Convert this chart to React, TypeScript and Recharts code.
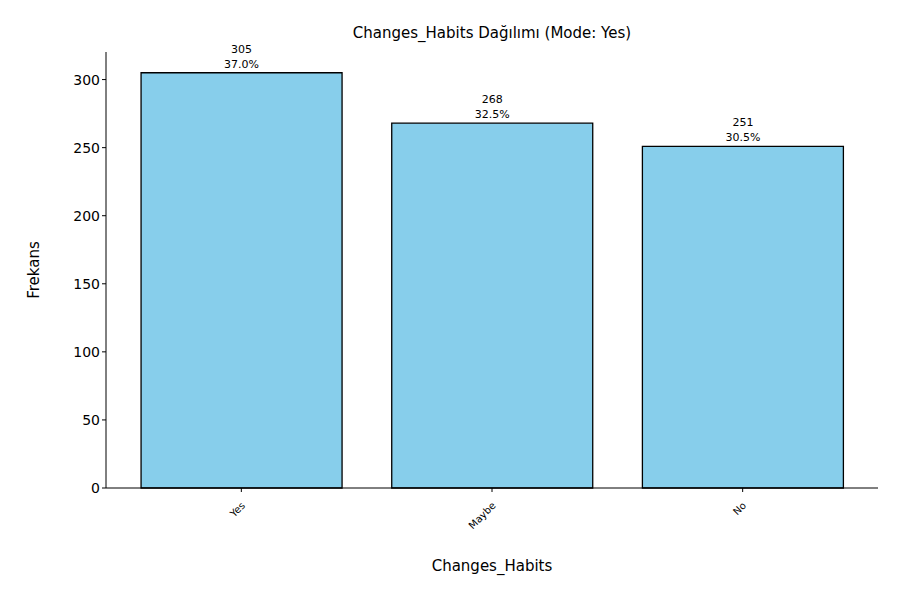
import React from 'react';
import { BarChart, Bar, XAxis, YAxis, LabelList } from 'recharts';

const categories = ['Yes', 'Maybe', 'No'];
const counts = [305, 268, 251];
const percents = ['37.0%', '32.5%', '30.5%'];
const yTicks = [0, 50, 100, 150, 200, 250, 300];

const data = categories.map((name, i) => ({ name, value: counts[i], pct: percents[i] }));

const font = 'DejaVu Sans, sans-serif';

const BarLabel = (props: any) => {
  const { x, y, width, index } = props;
  const cx = x + width / 2;
  return (
    <g fontFamily={font} fontSize={11} fill="#000" textAnchor="middle">
      <text x={cx} y={y - 20}>{counts[index]}</text>
      <text x={cx} y={y - 5}>{percents[index]}</text>
    </g>
  );
};

const XTick = (props: any) => {
  const { x, y, payload } = props;
  return (
    <g transform={`translate(${x},${y + 8})`}>
      <text transform="rotate(-45)" textAnchor="end" dy={6} fontFamily={font} fontSize={10} fill="#000">
        {payload.value}
      </text>
    </g>
  );
};

export default function App() {
  return (
    <div style={{ position: 'absolute', left: 0, top: 0, width: 900, height: 600, background: '#fff' }}>
      <BarChart
        width={900}
        height={600}
        data={data}
        margin={{ top: 52, right: 22, left: 46, bottom: 52 }}
        barCategoryGap="10%"
      >
        <text x={492} y={38} textAnchor="middle" fontFamily={font} fontSize={15} fill="#000">
          Changes_Habits Dağılımı (Mode: Yes)
        </text>
        <text x={492} y={571} textAnchor="middle" fontFamily={font} fontSize={15} fill="#000">
          Changes_Habits
        </text>
        <text x={39} y={270} transform="rotate(-90 39 270)" textAnchor="middle" fontFamily={font} fontSize={15} fill="#000">
          Frekans
        </text>
        <XAxis
          dataKey="name"
          height={60}
          padding={{ left: 10, right: 10 }}
          axisLine={{ stroke: '#000' }}
          tickLine={{ stroke: '#000' }}
          tickSize={4}
          tick={<XTick />}
          interval={0}
        />
        <XAxis xAxisId="top" dataKey="name" orientation="top" height={0} tick={false} tickLine={false} axisLine={{ stroke: '#000' }} />
        <YAxis
          width={60}
          domain={[0, 320.25]}
          ticks={yTicks}
          axisLine={{ stroke: '#000' }}
          tickLine={{ stroke: '#000' }}
          tickSize={4}
          tick={{ fill: '#000', fontSize: 14, fontFamily: font }}
        />
        <YAxis yAxisId="right" orientation="right" width={0} tick={false} tickLine={false} axisLine={{ stroke: '#000' }} />
        <Bar dataKey="value" fill="#87CEEB" stroke="#000" strokeWidth={1.3} isAnimationActive={false}>
          <LabelList dataKey="value" content={<BarLabel />} />
        </Bar>
      </BarChart>
    </div>
  );
}
